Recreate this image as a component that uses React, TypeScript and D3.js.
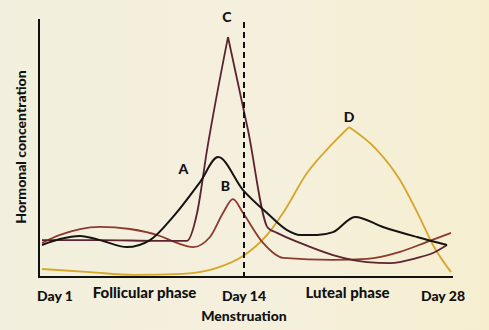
import React from "react";
import * as d3 from "d3";

type Pt = [number, number];

// Day along the cycle, hormonal level (0-100 arbitrary units)
const hormoneA: Pt[] = [
  [1, 12.4], [2.16, 14.7], [3.45, 15.9], [4.73, 14.3], [6.47, 11.6], [7.95, 14.3],
  [9.43, 23.3], [11.17, 36.8], [12.33, 46.5], [13.94, 33.7], [15.56, 24.8],
  [16.91, 18.2], [17.79, 16.3], [18.94, 16.3], [20.02, 17.4], [21.51, 23.3],
  [23.4, 19.4], [25.7, 15.5], [27.73, 12.4],
];
const hormoneB: Pt[] = [
  [1, 13.2], [2.16, 16.3], [3.45, 18.6], [4.73, 19.4], [6.66, 18.6], [8.59, 15.9],
  [9.69, 13.2], [10.72, 11.6], [11.81, 15.5], [12.65, 24.8], [13.29, 30.2],
  [13.94, 24.8], [15.29, 13.2], [16.64, 7.4], [20.02, 6.6], [22.32, 7.0],
  [24.55, 9.7], [26.38, 13.6], [28, 17.1],
];
const hormoneC: Pt[] = [
  [1, 14.3], [4.73, 14.3], [8.59, 14.0], [10.33, 14.0], [10.98, 24.8], [11.62, 49.2],
  [12.97, 93.0], [14.27, 57.0], [15.62, 19.0], [16.23, 17.1], [17.79, 13.2],
  [20.02, 8.5], [22.32, 5.8], [23.87, 5.4], [25.7, 7.4], [26.78, 9.3], [27.73, 12.4],
];
const hormoneD: Pt[] = [
  [1, 3.1], [4.09, 1.9], [6.86, 0.8], [10.07, 1.2], [12.26, 3.5], [13.94, 8.1],
  [15.56, 16.3], [16.64, 24.8], [18.26, 40.3], [20.02, 51.9], [21.1, 58.1],
  [23.0, 49.2], [24.55, 37.6], [25.9, 22.9], [26.78, 12.4], [28, 1.9],
];

const dayTicks = [
  { day: 1, label: "Day 1" },
  { day: 14, label: "Day 14" },
  { day: 28, label: "Day 28" },
];
const phaseLabels = [
  { day: 7.6, label: "Follicular phase" },
  { day: 21.0, label: "Luteal phase" },
];
const curveLabels = [
  { name: "A", day: 10.1, value: 40 },
  { name: "B", day: 12.8, value: 33.5 },
  { name: "C", day: 12.9, value: 99 },
  { name: "D", day: 21.1, value: 60 },
];

const W = 489;
const H = 330;

export default function App() {
  const x = d3.scaleLinear().domain([1, 14, 28]).range([42, 244, 451]);
  const y = d3.scaleLinear().domain([0, 100]).range([277, 19]);

  const smooth = d3
    .line<Pt>()
    .x((d) => x(d[0]))
    .y((d) => y(d[1]))
    .curve(d3.curveMonotoneX);

  const peakSplit = (data: Pt[]) => {
    let iMax = 0;
    data.forEach((d, i) => {
      if (d[1] > data[iMax][1]) iMax = i;
    });
    return (smooth(data.slice(0, iMax + 1)) || "") + (smooth(data.slice(iMax)) || "");
  };

  const font = "Lato, 'Open Sans', sans-serif";
  const axisY = y(0);
  const axisX0 = 39;
  const axisX1 = 453;

  return (
    <svg
      width={W}
      height={H}
      style={{ position: "absolute", left: 0, top: 0, display: "block" }}
    >
      <defs>
        <linearGradient id="paper" x1="0" y1="0" x2="1" y2="0">
          <stop offset="0" stopColor="#f3efde" />
          <stop offset="0.6" stopColor="#f5f0dc" />
          <stop offset="1" stopColor="#f6eecf" />
        </linearGradient>
      </defs>
      <rect x={0} y={0} width={W} height={H} fill="url(#paper)" />

      {/* curves */}
      <path d={peakSplit(hormoneD)} fill="none" stroke="#d6a62a" strokeWidth={1.8} />
      <path d={smooth(hormoneB) || ""} fill="none" stroke="#8c3a2e" strokeWidth={1.8} />
      <path d={peakSplit(hormoneC)} fill="none" stroke="#5c2430" strokeWidth={1.8} />
      <path d={smooth(hormoneA) || ""} fill="none" stroke="#161412" strokeWidth={2} />

      {/* dashed day 14 line */}
      <line
        x1={x(14)}
        x2={x(14)}
        y1={22}
        y2={axisY}
        stroke="#111"
        strokeWidth={2}
        strokeDasharray="6,4"
      />

      {/* axes */}
      <line x1={axisX0} x2={axisX0} y1={19} y2={axisY + 1} stroke="#111" strokeWidth={2} />
      <line x1={axisX0 - 1} x2={axisX1} y1={axisY} y2={axisY} stroke="#111" strokeWidth={2} />

      {/* curve labels */}
      {curveLabels.map((c) => (
        <text
          key={c.name}
          x={x(c.day)}
          y={y(c.value)}
          textAnchor="middle"
          fontFamily={font}
          fontWeight={900}
          fontSize={14}
          fill="#111"
        >
          {c.name}
        </text>
      ))}

      {/* x labels */}
      {dayTicks.map((t) => (
        <text
          key={t.label}
          x={x(t.day) + (t.day === 1 ? 13 : t.day === 28 ? -8 : 0)}
          y={301}
          textAnchor="middle"
          fontFamily={font}
          fontWeight={900}
          fontSize={14}
          fill="#111"
        >
          {t.label}
        </text>
      ))}
      {phaseLabels.map((t) => (
        <text
          key={t.label}
          x={x(t.day)}
          y={298}
          textAnchor="middle"
          fontFamily={font}
          fontWeight={900}
          fontSize={15}
          fill="#111"
        >
          {t.label}
        </text>
      ))}
      <text
        x={x(14)}
        y={321}
        textAnchor="middle"
        fontFamily={font}
        fontWeight={900}
        fontSize={14}
        fill="#111"
      >
        Menstruation
      </text>

      {/* y label */}
      <text
        transform={`translate(26, 147) rotate(-90)`}
        textAnchor="middle"
        fontFamily={font}
        fontWeight={900}
        fontSize={14}
        fill="#111"
      >
        Hormonal concentration
      </text>
    </svg>
  );
}
